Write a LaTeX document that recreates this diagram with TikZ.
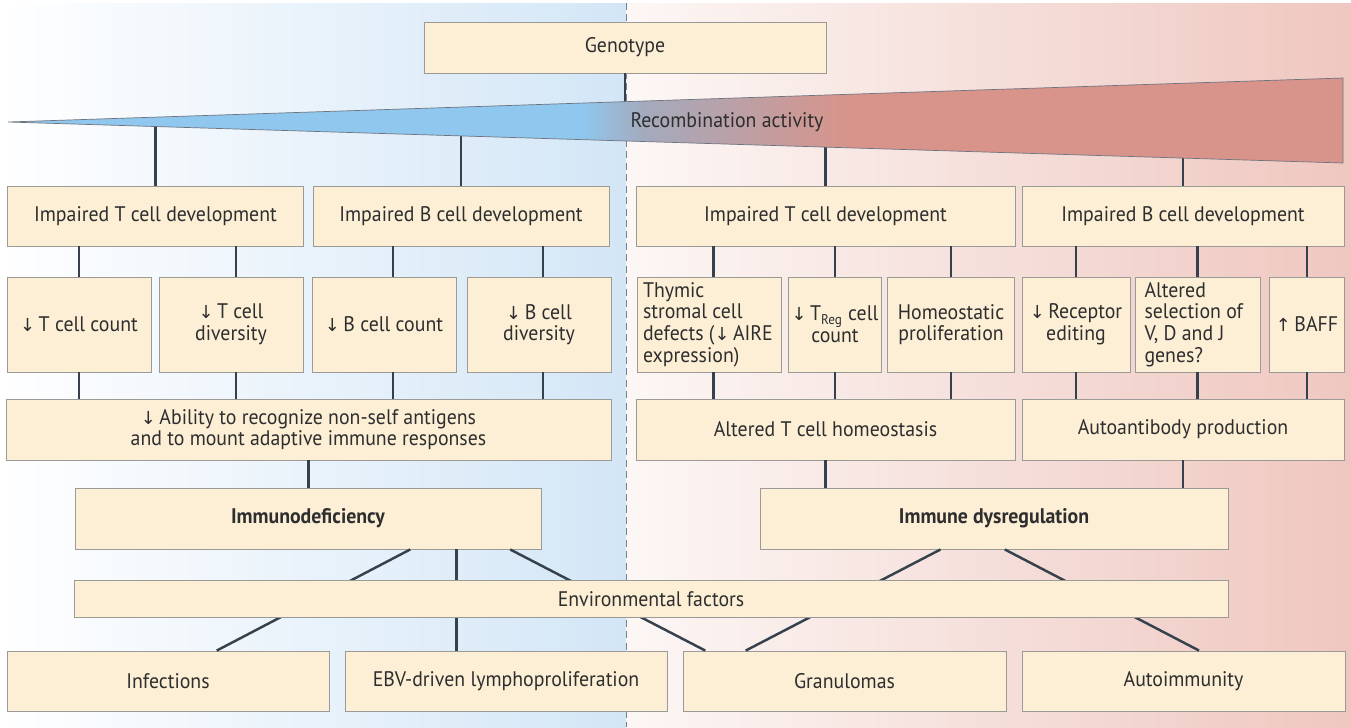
\documentclass[tikz,border=0pt]{standalone}
\usepackage{fontspec}
\setmainfont{PT Sans}[FakeStretch=0.94]
\newfontfamily\arrowfont{DejaVu Sans}[Scale=0.85]
\newcommand{\dnarrow}{{\arrowfont ↓}}
\newcommand{\uparrowsym}{{\arrowfont ↑}}
\usetikzlibrary{calc}

\definecolor{boxfill}{HTML}{FCEFD6}
\definecolor{boxline}{HTML}{9C9A96}
\definecolor{linkcol}{HTML}{36414D}
\definecolor{txt}{HTML}{2E2E2E}
\definecolor{bgblue}{HTML}{D3E6F6}
\definecolor{bgpinkl}{HTML}{FCF7F5}
\definecolor{bgpink}{HTML}{EFC7C0}
\definecolor{dashcol}{HTML}{6F8296}
\definecolor{wblue}{HTML}{8FC7EE}
\definecolor{wgray}{HTML}{A4AABD}
\definecolor{wred}{HTML}{D8948A}
\definecolor{wedge}{HTML}{6E7480}

\newlength\pxu
\setlength\pxu{0.02cm}

\pgfdeclarehorizontalshading{wedgeshade}{100bp}{color(0bp)=(wblue); color(46.5bp)=(wblue); color(48.8bp)=(wgray); color(56.5bp)=(wred); color(100bp)=(wred)}

\tikzstyle{box} = [draw=boxline, line width=0.5pt, fill=boxfill, text=txt, inner sep=2pt, align=center, font=\fontsize{12}{12.3}\selectfont]
\tikzstyle{bold box} = [box, font=\fontsize{12}{12.3}\selectfont\bfseries]
\tikzstyle{link} = [draw=linkcol, line width=1.4pt]

\begin{document}
\begin{tikzpicture}[x=0.02cm, y=-0.02cm]
\useasboundingbox (0,0) rectangle (1351,727);
%background
\shade[left color=white, right color=bgblue] (0,3) rectangle (626,727);
\shade[left color=bgpinkl, right color=bgpink] (626,3) rectangle (1351,727);
\draw[draw=dashcol, line width=0.5pt, dash pattern=on 4pt off 2.5pt] (626,3) -- (626,727);

%begin top
\node[box, minimum width=402\pxu, minimum height=51\pxu] (geno) at (625,47.5) {Genotype};
\coordinate (tip) at (8,122);
\coordinate (wtop) at (1343,78);
\coordinate (wbot) at (1343,163);
%end top

%begin level1
\node[box, minimum width=296\pxu, minimum height=60\pxu] (ltdev) at (155.5,216) {Impaired T cell development};
\node[box, minimum width=296\pxu, minimum height=60\pxu] (lbdev) at (461,216) {Impaired B cell development};
\node[box, minimum width=379\pxu, minimum height=60\pxu] (rtdev) at (825.5,216) {Impaired T cell development};
\node[box, minimum width=322\pxu, minimum height=60\pxu] (rbdev) at (1183,216) {Impaired B cell development};
%end level1

%begin level2
\node[box, minimum width=144\pxu, minimum height=95\pxu] (ltcnt) at (79,324.5) {\dnarrow\,T cell count};
\node[box, minimum width=144\pxu, minimum height=95\pxu] (ltdiv) at (231,324.5) {\dnarrow\,T cell\\ diversity};
\node[box, minimum width=144\pxu, minimum height=95\pxu] (lbcnt) at (384,324.5) {\dnarrow\,B cell count};
\node[box, minimum width=144\pxu, minimum height=95\pxu] (lbdiv) at (539,324.5) {\dnarrow\,B cell\\ diversity};
\node[box, align=flush left, text width=132\pxu, minimum width=144\pxu, minimum height=95\pxu] (thym) at (709,324.5) {Thymic\\ stromal cell\\ defects (\dnarrow\,AIRE\\ expression)};
\node[box, minimum width=93\pxu, minimum height=95\pxu] (treg) at (835,324.5) {\dnarrow\,T\textsubscript{Reg} cell\\ count};
\node[box, minimum width=127\pxu, minimum height=95\pxu] (homeo) at (951,324.5) {Homeostatic\\ proliferation};
\node[box, minimum width=108\pxu, minimum height=95\pxu] (recep) at (1076,324.5) {\dnarrow\,Receptor\\ editing};
\node[box, align=flush left, text width=106\pxu, minimum width=125\pxu, minimum height=95\pxu] (vdj) at (1197.5,324.5) {Altered\\ selection of\\ V, D and J\\ genes?};
\node[box, minimum width=75\pxu, minimum height=95\pxu] (baff) at (1307,324.5) {\uparrowsym\,BAFF};
%end level2

%begin level3
\node[box, minimum width=605\pxu, minimum height=61\pxu] (ability) at (308.5,429.5) {\dnarrow\,Ability to recognize non-self antigens\\ and to mount adaptive immune responses};
\node[box, minimum width=379\pxu, minimum height=61\pxu] (althom) at (825.5,429.5) {Altered T cell homeostasis};
\node[box, minimum width=322\pxu, minimum height=61\pxu] (autoab) at (1183,429.5) {Autoantibody production};
%end level3

%begin level4
\node[bold box, minimum width=466\pxu, minimum height=61\pxu] (immdef) at (308,518.5) {Immunodeficiency};
\node[bold box, minimum width=468\pxu, minimum height=61\pxu] (immdys) at (994,518.5) {Immune dysregulation};
%end level4

%begin outcomes
\node[box, minimum width=322\pxu, minimum height=60\pxu] (infect) at (168,681) {Infections};
\node[box, minimum width=322\pxu, minimum height=60\pxu] (ebv) at (506,681) {EBV-driven lymphoproliferation};
\node[box, minimum width=323\pxu, minimum height=60\pxu] (gran) at (844.5,681) {Granulomas};
\node[box, minimum width=323\pxu, minimum height=60\pxu] (autoim) at (1183.5,681) {Autoimmunity};
%end outcomes

%links to the wedge
\draw[link] (geno.south) -- (geno.south |- tip);
\draw[link] (ltdev.north) -- (ltdev.north |- tip);
\draw[link] (lbdev.north) -- (lbdev.north |- tip);
\draw[link] (rtdev.north) -- (rtdev.north |- tip);
\draw[link] (rbdev.north) -- (rbdev.north |- tip);

%wedge
\shade[shading=wedgeshade, draw=wedge, line width=0.4pt] (tip) -- (wtop) -- (wbot) -- cycle;
\node[text=txt, font=\fontsize{12}{12.3}\selectfont] (recomb) at (727,122) {Recombination activity};

%links level1 -> level2 -> level3
\draw[link] (ltcnt.north |- ltdev.south) -- (ltcnt.north);
\draw[link] (ltcnt.south) -- (ltcnt.south |- ability.north);
\draw[link] ([xshift=5\pxu]ltdiv.north |- ltdev.south) -- ([xshift=5\pxu]ltdiv.north);
\draw[link] ([xshift=5\pxu]ltdiv.south) -- ([xshift=5\pxu]ltdiv.south |- ability.north);
\draw[link] ([xshift=9\pxu]lbcnt.north |- lbdev.south) -- ([xshift=9\pxu]lbcnt.north);
\draw[link] ([xshift=9\pxu]lbcnt.south) -- ([xshift=9\pxu]lbcnt.south |- ability.north);
\draw[link] ([xshift=4\pxu]lbdiv.north |- lbdev.south) -- ([xshift=4\pxu]lbdiv.north);
\draw[link] ([xshift=4\pxu]lbdiv.south) -- ([xshift=4\pxu]lbdiv.south |- ability.north);
\draw[link] ([xshift=4.5\pxu]thym.north |- rtdev.south) -- ([xshift=4.5\pxu]thym.north);
\draw[link] ([xshift=4.5\pxu]thym.south) -- ([xshift=4.5\pxu]thym.south |- althom.north);
\draw[link] (treg.north |- rtdev.south) -- (treg.north);
\draw[link] (treg.south) -- (treg.south |- althom.north);
\draw[link] (homeo.north |- rtdev.south) -- (homeo.north);
\draw[link] (homeo.south) -- (homeo.south |- althom.north);
\draw[link] (recep.north |- rbdev.south) -- (recep.north);
\draw[link] (recep.south) -- (recep.south |- autoab.north);
\draw[link] (vdj.north |- rbdev.south) -- (vdj.north);
\draw[link] (vdj.south) -- (vdj.south |- autoab.north);
\draw[link] (baff.north |- rbdev.south) -- (baff.north);
\draw[link] (baff.south) -- (baff.south |- autoab.north);

%links level3 -> level4
\draw[link] (ability.south) -- (ability.south |- immdef.north);
\draw[link] (althom.south) -- (althom.south |- immdys.north);
\draw[link] (autoab.south) -- (autoab.south |- immdys.north);

%links level4 -> outcomes
\draw[link] ($(immdef.south west)!0.719!(immdef.south east)$) -- ($(infect.north west)!0.651!(infect.north east)$);
\draw[link] ($(immdef.south west)!0.818!(immdef.south east)$) coordinate (d2) -- (d2 |- ebv.north);
\draw[link] ($(immdef.south west)!0.933!(immdef.south east)$) -- ($(gran.north west)!0.07!(gran.north east)$);
\draw[link] ($(immdys.south west)!0.386!(immdys.south east)$) -- ($(gran.north west)!0.195!(gran.north east)$);
\draw[link] ($(immdys.south west)!0.523!(immdys.south east)$) -- ($(autoim.north west)!0.548!(autoim.north east)$);

%environment on top of the links
\node[box, minimum width=1154\pxu, minimum height=37\pxu] (env) at (651,599) {Environmental factors};
\end{tikzpicture}
\end{document}
